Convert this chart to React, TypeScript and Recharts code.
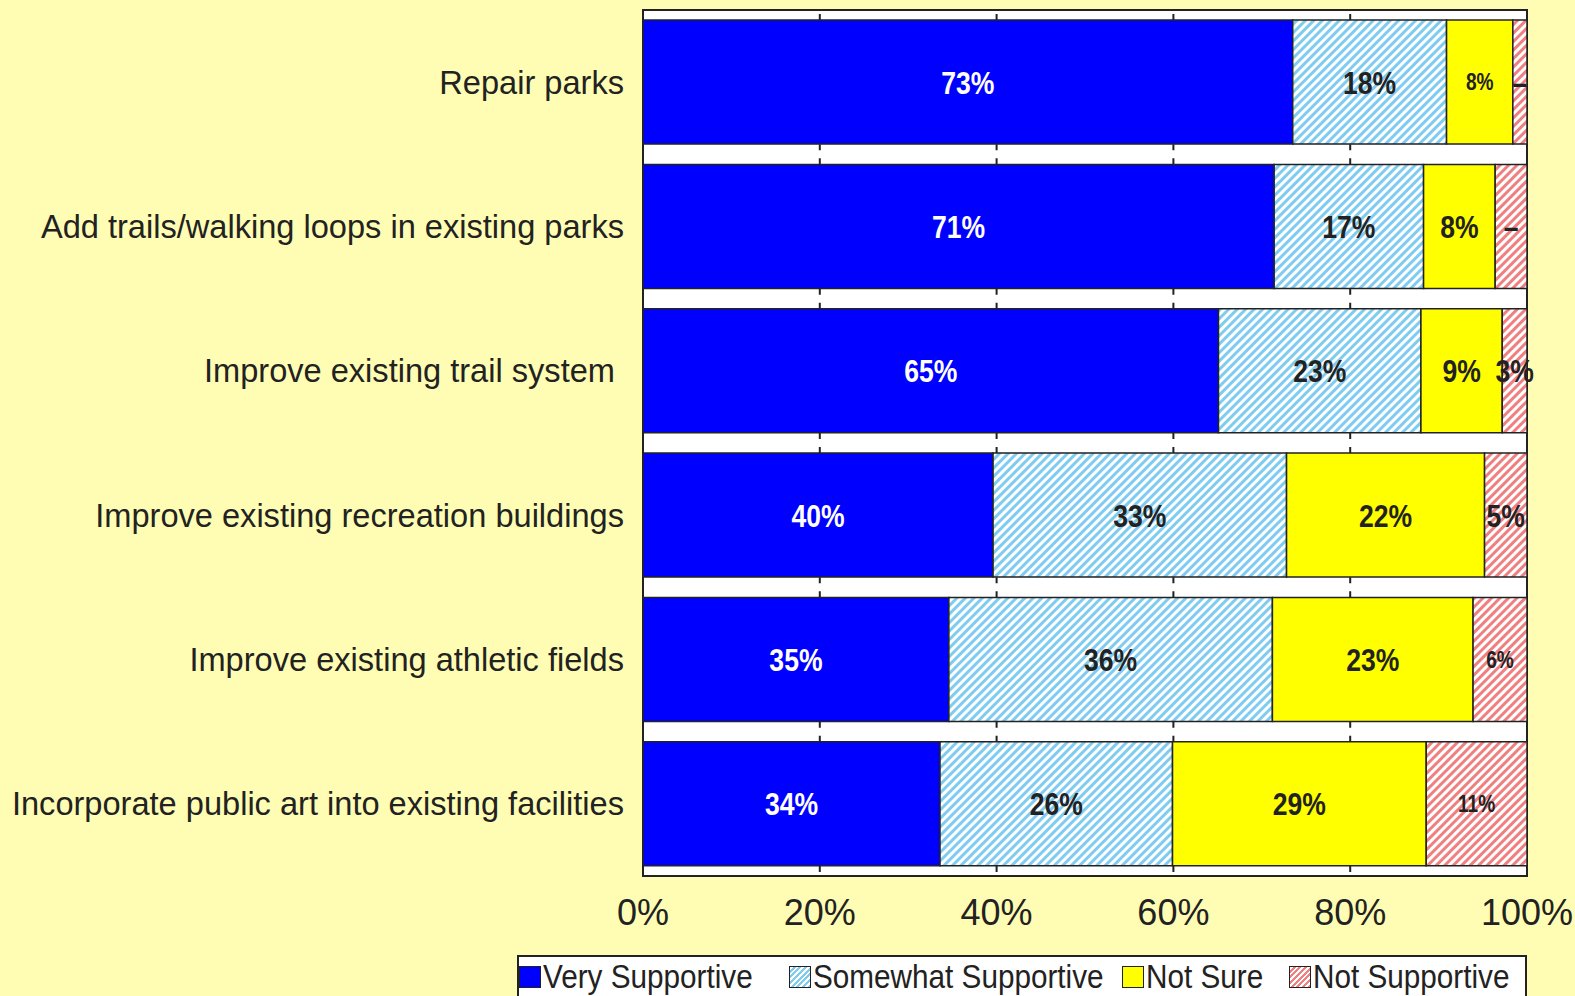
import React from 'react';
import { BarChart, Bar, XAxis, YAxis, CartesianGrid, ReferenceArea, LabelList } from 'recharts';

const categories = [
    'Repair parks',
    'Add trails/walking loops in existing parks',
    'Improve existing trail system ',
    'Improve existing recreation buildings',
    'Improve existing athletic fields',
    'Incorporate public art into existing facilities',
];

const verySupportive = [73.5, 71.4, 65.1, 39.6, 34.6, 33.6];
const somewhatSupportive = [17.4, 16.9, 22.9, 33.2, 36.6, 26.3];
const notSure = [7.5, 8.1, 9.2, 22.4, 22.7, 28.7];
const notSupportive = [1.6, 3.6, 2.8, 4.8, 6.1, 11.4];

const veryLabels = ['73%', '71%', '65%', '40%', '35%', '34%'];
const somewhatLabels = ['18%', '17%', '23%', '33%', '36%', '26%'];
const notSureLabels = ['8%', '8%', '9%', '22%', '23%', '29%'];
const notSupportiveLabels = ['\u2013', '\u2013', '3%', '5%', '6%', '11%'];

const xTicks = [0, 20, 40, 60, 80, 100];

const data = categories.map((name, i) => ({
    name,
    very: verySupportive[i],
    somewhat: somewhatSupportive[i],
    notSure: notSure[i],
    notSupportive: notSupportive[i],
}));

const BG = '#FFFDB3';
const FONT = '"Liberation Sans", Arial, sans-serif';

// plot height / rows, used to put the grid dashes in the gaps between bars
const ROW = (876 - 10) / 6;

function makeLabel(labels: string[], color: string, small: number[] = []) {
    return (props: any) => {
        const { x, y, width, height, index } = props;
        const size = small.includes(index) ? 23 : 32;
        const cx = Number(x) + Number(width) / 2;
        const cy = Number(y) + Number(height) / 2;
        return (
            <text
                transform={`translate(${cx},${cy}) scale(0.83,1)`}
                x={0}
                y={0}
                textAnchor="middle"
                dominantBaseline="central"
                fill={color}
                fontFamily={FONT}
                fontWeight="bold"
                fontSize={size}
            >
                {labels[index]}
            </text>
        );
    };
}

const legendItems = [
    { label: 'Very Supportive', bg: '#0000FF', left: 519 },
    { label: 'Somewhat Supportive', bg: 'repeating-linear-gradient(-45deg, #80CCF0 0 2px, #fff 2px 4px)', left: 789 },
    { label: 'Not Sure', bg: '#FFFF00', left: 1122 },
    { label: 'Not Supportive', bg: 'repeating-linear-gradient(-45deg, #F08080 0 2px, #fff 2px 4px)', left: 1289 },
];

export default function App() {
    return (
        <div style={{ position: 'absolute', left: 0, top: 0, width: 1575, height: 996, overflow: 'hidden', background: BG }}>
            <BarChart
                width={1575}
                height={996}
                data={data}
                layout="vertical"
                margin={{ top: 10, right: 48, bottom: 60, left: 0 }}
                barCategoryGap="7%"
            >
                <defs>
                    <pattern id="hatchBlue" patternUnits="userSpaceOnUse" width="6" height="6" patternTransform="rotate(45)">
                        <rect width="6" height="6" fill="#fff" />
                        <rect width="3" height="6" fill="#80CCF0" />
                    </pattern>
                    <pattern id="hatchRed" patternUnits="userSpaceOnUse" width="6" height="6" patternTransform="rotate(45)">
                        <rect width="6" height="6" fill="#fff" />
                        <rect width="3" height="6" fill="#F08080" />
                    </pattern>
                </defs>
                <CartesianGrid
                    horizontal={false}
                    fill="#fff"
                    stroke="#222"
                    strokeWidth={2}
                    strokeDasharray={`6 8 6 ${ROW - 20}`}
                    strokeDashoffset={10}
                />
                <XAxis
                    type="number"
                    domain={[0, 100]}
                    ticks={xTicks}
                    interval={0}
                    tickFormatter={(v) => `${v}%`}
                    axisLine={false}
                    tickLine={false}
                    tickSize={0}
                    tickMargin={23}
                    height={60}
                    tick={{ fill: '#222', fontSize: 36, fontFamily: FONT }}
                />
                <YAxis
                    type="category"
                    dataKey="name"
                    width={643}
                    axisLine={false}
                    tickLine={false}
                    tickSize={0}
                    tickMargin={19}
                    interval={0}
                    tick={{ fill: '#222', fontSize: 32.6, fontFamily: FONT, style: { whiteSpace: 'pre' } }}
                />
                <Bar dataKey="very" stackId="a" fill="#0000FF" stroke="#222" strokeWidth={1.5} isAnimationActive={false}>
                    <LabelList dataKey="very" content={makeLabel(veryLabels, '#fff')} />
                </Bar>
                <Bar dataKey="somewhat" stackId="a" fill="url(#hatchBlue)" stroke="#222" strokeWidth={1.5} isAnimationActive={false}>
                    <LabelList dataKey="somewhat" content={makeLabel(somewhatLabels, '#222')} />
                </Bar>
                <Bar dataKey="notSure" stackId="a" fill="#FFFF00" stroke="#222" strokeWidth={1.5} isAnimationActive={false}>
                    <LabelList dataKey="notSure" content={makeLabel(notSureLabels, '#222', [0])} />
                </Bar>
                <Bar dataKey="notSupportive" stackId="a" fill="url(#hatchRed)" stroke="#222" strokeWidth={1.5} isAnimationActive={false}>
                    <LabelList dataKey="notSupportive" content={makeLabel(notSupportiveLabels, '#222', [4, 5])} />
                </Bar>
                <ReferenceArea x1={0} x2={100} fill="none" fillOpacity={0} stroke="#222" strokeWidth={2} ifOverflow="visible" />
            </BarChart>
            <div
                style={{
                    position: 'absolute',
                    left: 517,
                    top: 955,
                    width: 1010,
                    height: 60,
                    background: '#fff',
                    border: '2px solid #222',
                    boxSizing: 'border-box',
                }}
            >
                {legendItems.map((item) => (
                    <div
                        key={item.label}
                        style={{
                            position: 'absolute',
                            left: item.left - 519,
                            top: 2,
                            height: 36,
                            display: 'flex',
                            alignItems: 'center',
                            fontFamily: FONT,
                            fontSize: 33,
                            color: '#222',
                            whiteSpace: 'nowrap',
                            lineHeight: '36px',
                        }}
                    >
                        <span
                            style={{
                                display: 'inline-block',
                                width: 20,
                                height: 20,
                                background: item.bg,
                                border: '1.5px solid #222',
                                marginRight: 2,
                            }}
                        />
                        <span style={{ display: 'inline-block', transform: 'scaleX(0.9)', transformOrigin: 'left center' }}>
                            {item.label}
                        </span>
                    </div>
                ))}
            </div>
        </div>
    );
}
